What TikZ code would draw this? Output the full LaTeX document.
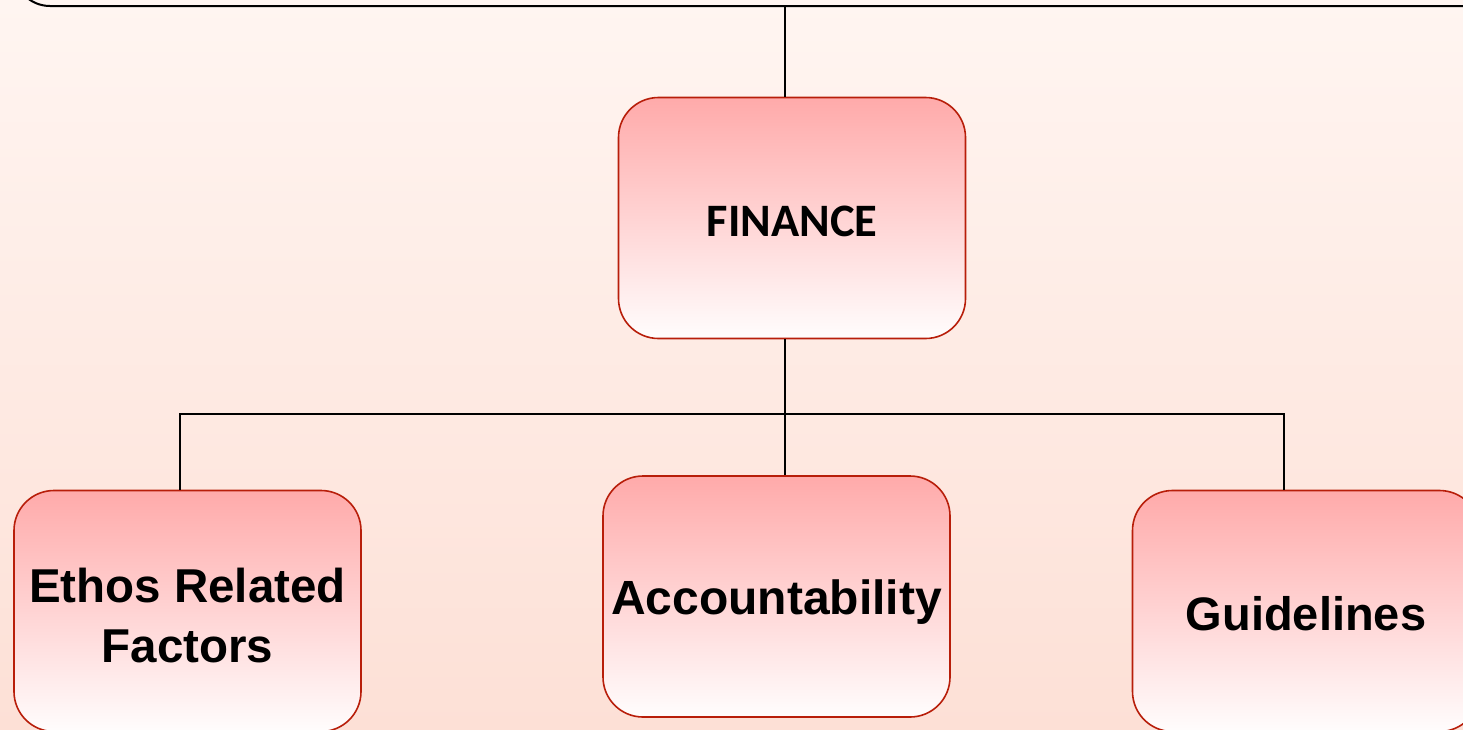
\documentclass[tikz,border=0pt]{standalone}
\usepackage{fontspec}
\setmainfont{Liberation Sans}
\newfontfamily\carlito{Carlito}
\definecolor{bgtop}{RGB}{255,245,241}
\definecolor{bgbot}{RGB}{253,224,214}
\definecolor{boxtop}{RGB}{255,170,170}
\definecolor{boxbot}{RGB}{255,253,253}
\definecolor{boxline}{RGB}{184,30,10}
\tikzset{
  box/.style={draw=boxline, line width=1.6pt, rounded corners=40pt,
    top color=boxtop, bottom color=boxbot, minimum width=347pt,
    minimum height=241pt, inner sep=0pt, align=center,
    font=\fontsize{47.5}{60}\selectfont\bfseries},
  lift/.style={execute at begin node={\rule{0pt}{#1}}},
  conn/.style={draw=black, line width=1.5pt}
}
\begin{document}
\begin{tikzpicture}[x=1pt,y=-1pt]
\useasboundingbox (0,0) rectangle (1463,729);
\clip (0,0) rectangle (1463,729);
\shade[top color=bgtop, bottom color=bgbot] (0,0) rectangle (1463,729);
\node[draw=black, line width=2pt, rounded corners=36pt, minimum width=1486pt,
  minimum height=106pt, inner sep=0pt] (head) at (757,-47) {};
\node[box, lift=38pt, font=\carlito\fontsize{46.5}{55}\selectfont\bfseries] (fin) at (792,218) {FINANCE};
\node[box] (eth) at (187.5,611) {\rule{0pt}{44pt}Ethos Related\\Factors};
\node[box, lift=46pt, font=\fontsize{48}{60}\selectfont\bfseries] (acc) at (776.5,596.5) {Accountability};
\node[box, lift=40pt, font=\fontsize{47}{60}\selectfont\bfseries] (gui) at (1306,611) {Guidelines};
\coordinate (bM) at (785,414);
\coordinate (bL) at (180,414);
\coordinate (bR) at (1284,414);
\draw[conn] (head.south -| bM) -- (fin.north -| bM);
\draw[conn] (fin.south -| bM) -- (bM |- acc.north);
\draw[conn] (bL |- eth.north) -- (bL) -- (bR) -- (bR |- gui.north);
\end{tikzpicture}
\end{document}
